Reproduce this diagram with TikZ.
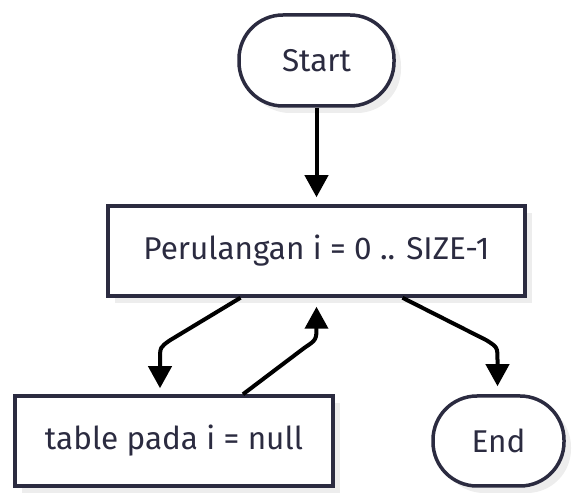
\documentclass[tikz,border=0pt]{standalone}
\usepackage{fontspec}
\setmainfont{Fira Sans}
\usetikzlibrary{arrows.meta,shadows,calc}
\definecolor{navy}{HTML}{2B2B40}
\definecolor{shad}{HTML}{EDEDED}
\begin{document}
\begin{tikzpicture}[x=1pt,y=-1pt,
  base/.style={draw=navy,line width=3.5pt,fill=white,text=navy,inner sep=0pt,
    font=\fontsize{31.5}{36}\selectfont,
    drop shadow={shadow xshift=7pt,shadow yshift=-7pt,fill=shad,opacity=1}},
  stadium/.style={base,rounded corners=44pt},
  procbox/.style={base},
  conn/.style={line width=4pt,black,-{Triangle[width=23pt,length=22pt]}}]
\useasboundingbox (0,0) rectangle (579,502);
\node[stadium,minimum width=155pt,minimum height=91pt] (start) at (316.5,60.5) {Start};
\node[procbox,minimum width=417pt,minimum height=90pt] (loop) at (316.5,251) {Perulangan i = 0 .. SIZE-1};
\node[procbox,minimum width=318pt,minimum height=90pt] (tbl) at (174,441) {table pada i = null};
\node[stadium,minimum width=131pt,minimum height=90pt] (end) at (498.5,441) {End};
\draw[conn,shorten >=7pt] (start.south) -- (loop.north);
\draw[conn,shorten >=6pt] ([xshift=-76pt]loop.south) -- ($(tbl.north)+(-4,-54)$) .. controls ($(tbl.north)+(-14,-47)$) .. ($(tbl.north)+(-14,-34)$) -- ([xshift=-14pt]tbl.north);
\draw[conn,shorten >=9pt] ([xshift=69pt]tbl.north) -- ($(loop.south)+(-12,50)$) .. controls ($(loop.south)+(0,42)$) .. ($(loop.south)+(0,28)$) -- (loop.south);
\draw[conn,shorten >=8pt] ([xshift=86pt]loop.south) -- ($(end.north)+(-12,-54)$) .. controls ($(end.north)+(-1,-47)$) .. ($(end.north)+(-1,-34)$) -- ([xshift=-1pt]end.north);
\end{tikzpicture}
\end{document}
